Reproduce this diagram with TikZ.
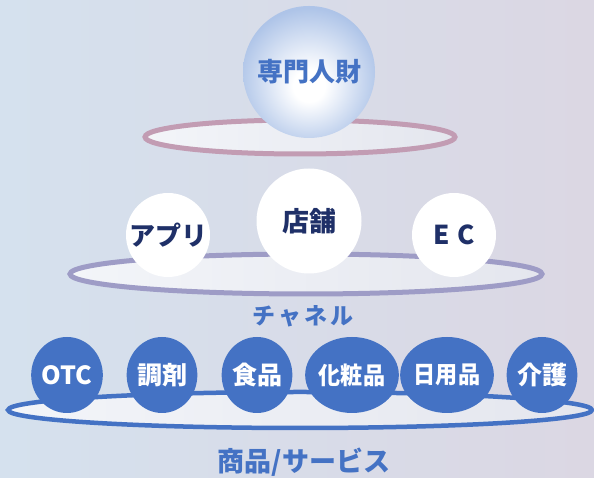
\documentclass[tikz,border=0pt]{standalone}
\usepackage{fontspec}
\setmainfont{Noto Sans CJK JP}
\usetikzlibrary{shapes.geometric}
\definecolor{bgl}{HTML}{D5E1EE}
\definecolor{bgr}{HTML}{DBD7E3}
\definecolor{mblue}{HTML}{4472C4}
\definecolor{navy}{HTML}{1F3068}
\definecolor{ringtop}{HTML}{C29CB3}
\definecolor{ringmid}{HTML}{9E9CC6}
\definecolor{fl}{HTML}{F3F5F9}
\definecolor{fr}{HTML}{E4E6EE}
\definecolor{sphb}{HTML}{AEC4E8}
\pgfdeclareradialshading{spherebl}{\pgfpoint{0bp}{-6bp}}{color(0bp)=(white); color(6bp)=(white); color(27bp)=(sphb); color(50bp)=(sphb)}
\tikzset{
  ring/.style={left color=fl, right color=fr, line width=#1},
  wcirc/.style={circle, fill=white, inner sep=0pt, text=navy, font=\bfseries\fontsize{26}{26}\selectfont},
  bcirc/.style={ellipse, fill=mblue, inner sep=0pt, minimum width=70pt, minimum height=76pt, text=white, font=\bfseries\fontsize{25}{25}\selectfont},
  lbl/.style={text=mblue, font=\bfseries\fontsize{#1}{#1}\selectfont, inner sep=0pt}
}
\begin{document}
\begin{tikzpicture}[x=1pt,y=1pt]
\shade[left color=bgl, right color=bgr] (0,0) rectangle (594,478);
\useasboundingbox (0,0) rectangle (594,478);
% top ring and sphere
\filldraw[ring=5pt, draw=ringtop] (300,341) ellipse [x radius=155, y radius=17];
\node[circle, minimum size=132pt, inner sep=0pt, shading=spherebl, text=mblue, font=\bfseries\fontsize{26}{26}\selectfont] (sen) at (309,406) {専門人財};
% middle ring
\filldraw[ring=5pt, draw=ringmid] (306,204) ellipse [x radius=236, y radius=20];
\node[wcirc, minimum size=84pt] (app) at (168,243) {アプリ};
\node[wcirc, minimum size=105pt, font=\bfseries\fontsize{27}{27}\selectfont] (tenpo) at (309,257) {店舗};
\node[wcirc, minimum size=84pt] (ec) at (454,243) {E\hspace{0.3em}C};
\node[lbl=23] (ch) at (303,162) {チ\hspace{3pt}ャ\hspace{3pt}ネ\hspace{3pt}ル};
% bottom ring
\filldraw[ring=4.5pt, draw=mblue] (300,68) ellipse [x radius=292, y radius=18];
\node[bcirc] (otc) at (67,103) {OTC};
\node[bcirc] (cho) at (162,103) {調剤};
\node[bcirc] (shoku) at (257,103) {食品};
\node[bcirc, font=\bfseries\fontsize{24}{24}\selectfont] (kesho) at (352,103) {\scalebox{0.92}[1]{化粧品}};
\node[bcirc, font=\bfseries\fontsize{24}{24}\selectfont] (nichi) at (447,103) {\scalebox{0.92}[1]{日用品}};
\node[bcirc] (kaigo) at (542,103) {介護};
\node[lbl=27] (sv) at (304,16) {商品/サービス};
\end{tikzpicture}
\end{document}
